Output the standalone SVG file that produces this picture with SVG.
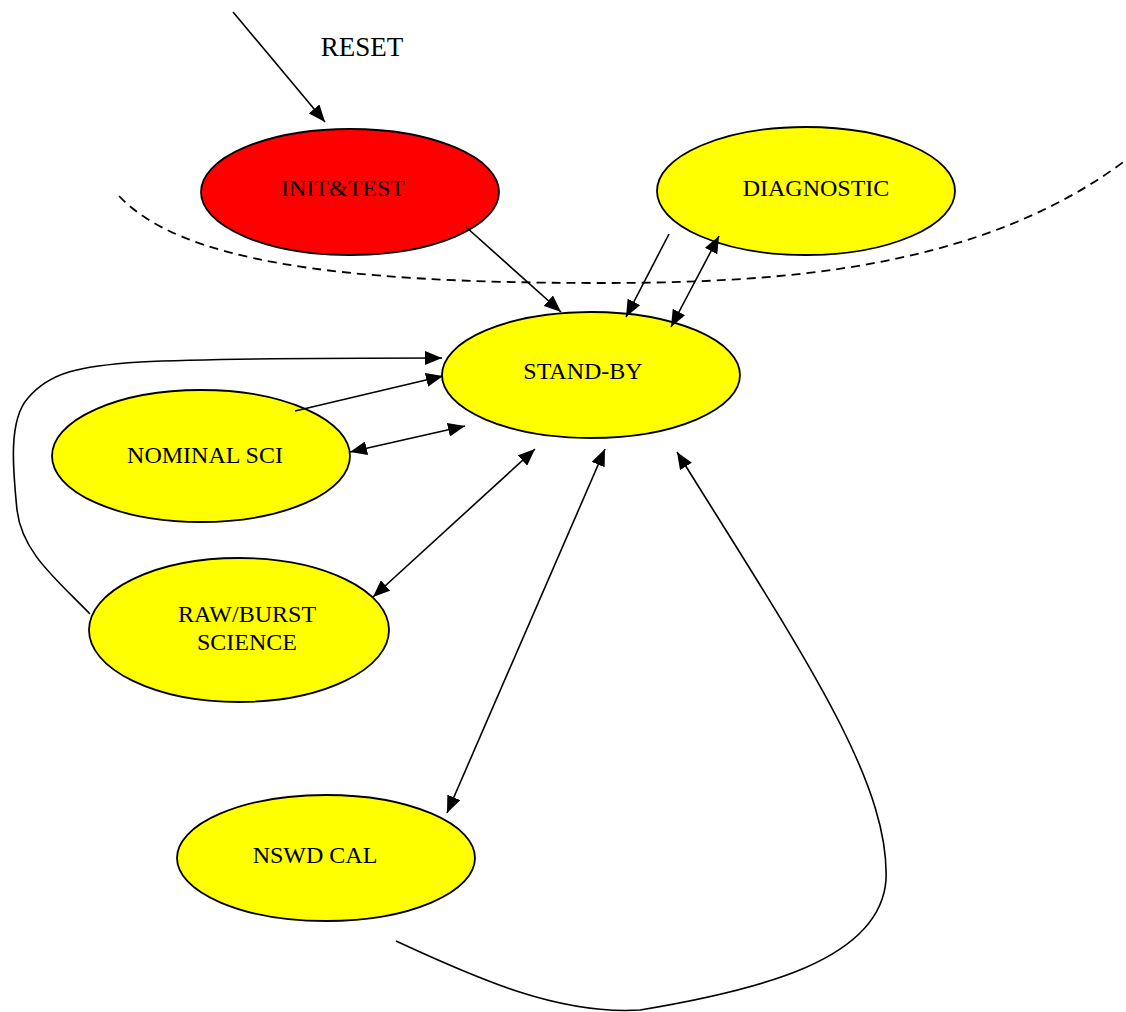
<svg xmlns="http://www.w3.org/2000/svg" width="1126" height="1012" viewBox="0 0 1126 1012">
<style>
.node ellipse{stroke:#000;stroke-width:1.8}
.y{fill:#ffff00}
.r{fill:#ff0000}
text{font-family:"Liberation Serif","Times New Roman",serif;font-size:24px;fill:#000;text-anchor:middle}
.c path,.c line{fill:none;stroke:#000;stroke-width:1.6}
.dash{fill:none;stroke:#000;stroke-width:1.8;stroke-dasharray:9 6}
</style>
<defs>
<marker id="ah" viewBox="0 0 17 14" refX="17" refY="7" markerWidth="17" markerHeight="14" markerUnits="userSpaceOnUse" orient="auto-start-reverse">
<path d="M0,0 L17,7 L0,14 Z" fill="#000"/>
</marker>
</defs>
<rect width="1126" height="1012" fill="#fff"/>
<path class="dash" d="M119,196 C180,260 330,283 600,283 C780,283 980,270 1126,160"/>
<g id="init" class="node"><ellipse class="r" cx="350" cy="192" rx="149" ry="63"/><text x="343" y="196">INIT&amp;TEST</text></g>
<g id="diag" class="node"><ellipse class="y" cx="806" cy="191" rx="149" ry="64"/><text x="816" y="196">DIAGNOSTIC</text></g>
<g id="standby" class="node"><ellipse class="y" cx="591" cy="375" rx="149" ry="63"/><text x="583" y="379">STAND-BY</text></g>
<g id="nominal" class="node"><ellipse class="y" cx="201" cy="456" rx="149" ry="66"/><text x="205" y="463">NOMINAL SCI</text></g>
<g id="raw" class="node"><ellipse class="y" cx="239" cy="630" rx="150" ry="72"/><text x="247" y="622">RAW/BURST</text><text x="247" y="650">SCIENCE</text></g>
<g id="nswd" class="node"><ellipse class="y" cx="326" cy="858" rx="149" ry="63"/><text x="315" y="863">NSWD CAL</text></g>
<text x="362" y="56" style="font-size:27px">RESET</text>
<g id="connectors" class="c">
<line x1="233" y1="12" x2="325" y2="122" marker-end="url(#ah)"/>
<line x1="466" y1="227" x2="561" y2="312" marker-end="url(#ah)"/>
<line x1="669" y1="234" x2="626" y2="317" marker-end="url(#ah)"/>
<line x1="719" y1="236" x2="671" y2="327" marker-start="url(#ah)" marker-end="url(#ah)"/>
<line x1="295" y1="411" x2="443" y2="376" marker-end="url(#ah)"/>
<line x1="350" y1="452" x2="465" y2="426" marker-start="url(#ah)" marker-end="url(#ah)"/>
<line x1="373" y1="597" x2="535" y2="449" marker-start="url(#ah)" marker-end="url(#ah)"/>
<line x1="447" y1="813" x2="605" y2="449" marker-start="url(#ah)" marker-end="url(#ah)"/>
<path d="M90,614 C55,578 22,552 17,510 C13,470 8,420 28,398 C50,372 80,366 140,362 C220,358 350,358 442,358" marker-end="url(#ah)"/>
<path d="M396,941 C480,980 560,1015 640,1010 C760,990 880,960 886,880 C890,780 800,650 677,452" marker-end="url(#ah)"/>
</g>
</svg>
